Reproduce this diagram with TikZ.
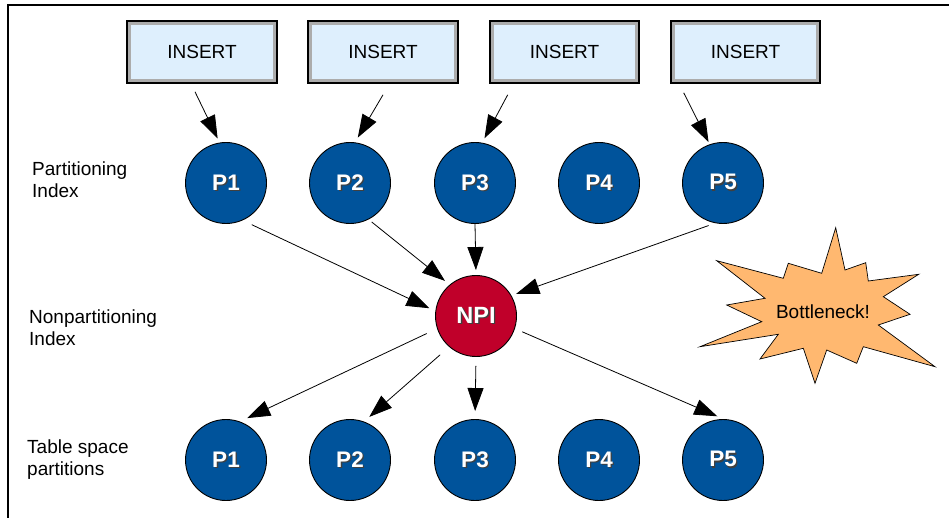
\documentclass[tikz,border=0pt]{standalone}
\usepackage{fontspec}
\setmainfont{Liberation Sans}
\usetikzlibrary{arrows.meta,calc}

\definecolor{partblue}{RGB}{0,83,155}
\definecolor{npired}{RGB}{192,0,42}
\definecolor{boxfill}{RGB}{222,239,253}
\definecolor{boxrim}{RGB}{172,172,172}
\definecolor{burstfill}{RGB}{255,184,112}

% white lettering with a small dark drop shadow
\newcommand\shadowed[1]{\rlap{\kern1.4pt\raisebox{-1.4pt}{\textcolor{black!75}{#1}}}\textcolor{white}{#1}}

\tikzset{
  insertbox/.style={draw=black, line width=1.6pt, fill=boxfill,
    minimum width=148pt, minimum height=60pt, inner sep=0pt,
    font=\fontsize{19}{22}\selectfont},
  partnode/.style={circle, draw=black, line width=0.9pt, fill=partblue,
    minimum size=81pt, inner sep=0pt, font=\fontsize{22.5}{22}\selectfont\bfseries},
  npinode/.style={partnode, fill=npired, font=\fontsize{23.5}{23}\selectfont\bfseries},
  rowlabel/.style={anchor=base west, inner sep=0pt, font=\fontsize{19}{22}\selectfont},
  flow/.style={draw=black, line width=0.8pt,
    -{Triangle[length=23pt,width=16pt]}},
}

\begin{document}
\begin{tikzpicture}[x=1pt,y=-1pt]
\useasboundingbox (0,0) rectangle (949,518);

% page frame
\draw[line width=1.2pt] (8,520) -- (8,5) -- (951,5);

% insert operations
\foreach \n/\x in {1/202,2/383,3/564.5,4/745.5}{
  \node[insertbox] (ins\n) at (\x,52) {INSERT};
  \draw[boxrim, line width=3pt]
    ($(ins\n.north west)+(2.4pt,-2.4pt)$) rectangle ($(ins\n.south east)+(-2.4pt,2.4pt)$);
  \draw[black, line width=1.6pt] (ins\n.north west) rectangle (ins\n.south east);
}

% partitioning index
\foreach \n/\x in {1/226,2/350,3/475,4/599,5/723}{
  \node[partnode] (pi\n) at (\x,183) {\shadowed{P\n}};
}

% nonpartitioning index
\node[npinode] (npi) at (476,316) {\shadowed{NPI}};

% table space partitions
\foreach \n/\x in {1/226,2/350,3/475,4/599,5/723}{
  \node[partnode] (ts\n) at (\x,460) {\shadowed{P\n}};
}

% row labels
\node[rowlabel] (lblpa) at (32,176) {Partitioning};
\node[rowlabel] (lblpb) at (32,198) {Index};
\node[rowlabel] (lblna) at (29,323) {Nonpartitioning};
\node[rowlabel] (lblnb) at (29,345) {Index};
\node[rowlabel] (lblta) at (27,453) {Table space};
\node[rowlabel] (lbltb) at (27,475) {partitions};

% inserts into the partitioning index
\draw[flow, shorten >=4.5pt] ($(ins1.south)+(-7pt,-9pt)$) -- (pi1.99);
\draw[flow, shorten >=5.5pt] ($(ins2.south)+(0pt,-12pt)$) -- (pi2.83);
\draw[flow, shorten >=5pt] ($(ins3.south west)+(18pt,-12pt)$) -- (pi3.80);
\draw[flow, shorten >=2.5pt] ($(ins4.south west)+(13pt,-10pt)$) -- (pi5.109);

% partitioning index into the NPI
\draw[flow, shorten <=10pt, shorten >=6.5pt] (pi1.-66) -- (npi.173);
\draw[flow, shorten <=4pt, shorten >=6pt] (pi2.-63) -- (npi.130);
\draw[flow, shorten <=0pt, shorten >=5pt] (pi3.south) -- (npi.north);
\draw[flow, shorten <=7pt, shorten >=5pt] (pi5.-101) -- (npi.30);

% NPI out to the table space partitions
\draw[flow, shorten <=11.5pt, shorten >=8pt] (npi.-162) -- (ts1.70);
\draw[flow, shorten <=12pt, shorten >=7pt] (npi.-131) -- (ts2.70);
\draw[flow, shorten <=9pt, shorten >=8pt] (npi.south) -- (ts3.north);
\draw[flow, shorten <=8pt, shorten >=7pt] (npi.-18) -- (ts5.89);

% bottleneck burst
\draw[fill=burstfill, draw=black, line width=0.7pt, line join=miter]
  (835.7,227.7) -- (845,270) -- (865.7,262.7) -- (868.3,281) -- (918.7,274.3)
  -- (883.3,296.7) -- (910,314.3) -- (878.3,325) -- (935,366.7) -- (863.3,346.7)
  -- (856.7,363.3) -- (826.7,350) -- (815,383.3) -- (803.3,348.3) -- (760,359)
  -- (778.3,334.3) -- (700,346.7) -- (761.7,321.7) -- (726.7,305) -- (765,298.3)
  -- (716.7,260.7) -- (783.3,278.3) -- (788.3,263.3) -- (821.7,273.3) -- cycle;
\node[font=\fontsize{19}{22}\selectfont, inner sep=0pt] (bneck) at (823,312) {Bottleneck!};
\end{tikzpicture}
\end{document}
